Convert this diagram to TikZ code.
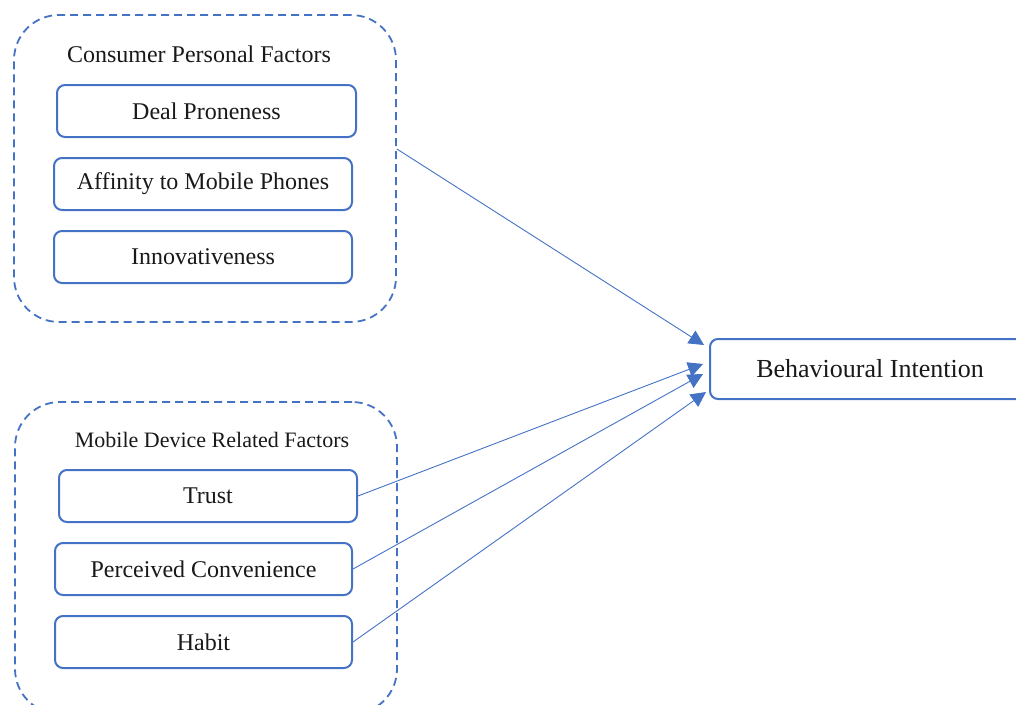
\documentclass[tikz,border=0pt]{standalone}
\usepackage{fontspec}
\setmainfont{Liberation Serif}
\usetikzlibrary{arrows.meta,calc}
\definecolor{obl}{HTML}{4472C4}
\tikzset{
  grp/.style={draw=obl, line width=1.8pt, dash pattern=on 8pt off 5pt, rounded corners=45pt, inner sep=0pt},
  fac/.style={draw=obl, line width=2pt, rounded corners=8pt, inner sep=0pt, font=\fontsize{24}{29}\selectfont, text=black!90},
  ttl/.style={font=\fontsize{24}{29}\selectfont, text=black!90, inner sep=0pt},
  conn/.style={draw=obl, line width=0.9pt, -{Triangle[length=15pt,width=15pt]}}
}
\begin{document}
\begin{tikzpicture}[x=1pt,y=-1pt]
\useasboundingbox (0,0) rectangle (1016,704);
\begin{scope}
\clip (0,0) rectangle (1016,704);
% groups
\node[grp, minimum width=382pt, minimum height=307pt] (g1) at (205,168.5) {};
\node[grp, minimum width=382pt, minimum height=312pt] (g2) at (206,558) {};
\node[ttl] (t1) at (199,54) {Consumer Personal Factors};
\node[ttl, font=\fontsize{22}{27}\selectfont] (t2) at (212,440) {Mobile Device Related Factors};
% factor boxes
\node[fac, minimum width=299pt, minimum height=52pt] (dp) at (206.5,111) {Deal Proneness};
\node[fac, minimum width=298pt, minimum height=52pt] (af) at (203,184) {Affinity to Mobile Phones};
\node[fac, minimum width=298pt, minimum height=52pt] (in) at (203,257) {Innovativeness};
\node[fac, minimum width=298pt, minimum height=52pt] (tr) at (208,496) {Trust};
\node[fac, minimum width=297pt, minimum height=52pt] (pc) at (203.5,569) {Perceived Convenience};
\node[fac, minimum width=297pt, minimum height=52pt] (hb) at (203.5,642) {Habit};
% outcome
\node[fac, font=\fontsize{26}{31}\selectfont, minimum width=320pt, minimum height=60pt] (bi) at (870,369) {Behavioural Intention};
\end{scope}
% connectors
\coordinate (s1) at ($(g1.east)+(0,-19.5)$);
\coordinate (e1) at ($(bi.west)+(-5,-24)$);
\coordinate (e2) at ($(bi.west)+(-6,-5)$);
\coordinate (e3) at ($(bi.west)+(-6,5)$);
\coordinate (e4) at ($(bi.west)+(-3,23)$);
\draw[conn] (s1) -- (e1);
\draw[conn] (tr.east) -- (e2);
\draw[conn] (pc.east) -- (e3);
\draw[conn] (hb.east) -- (e4);
\end{tikzpicture}
\end{document}
